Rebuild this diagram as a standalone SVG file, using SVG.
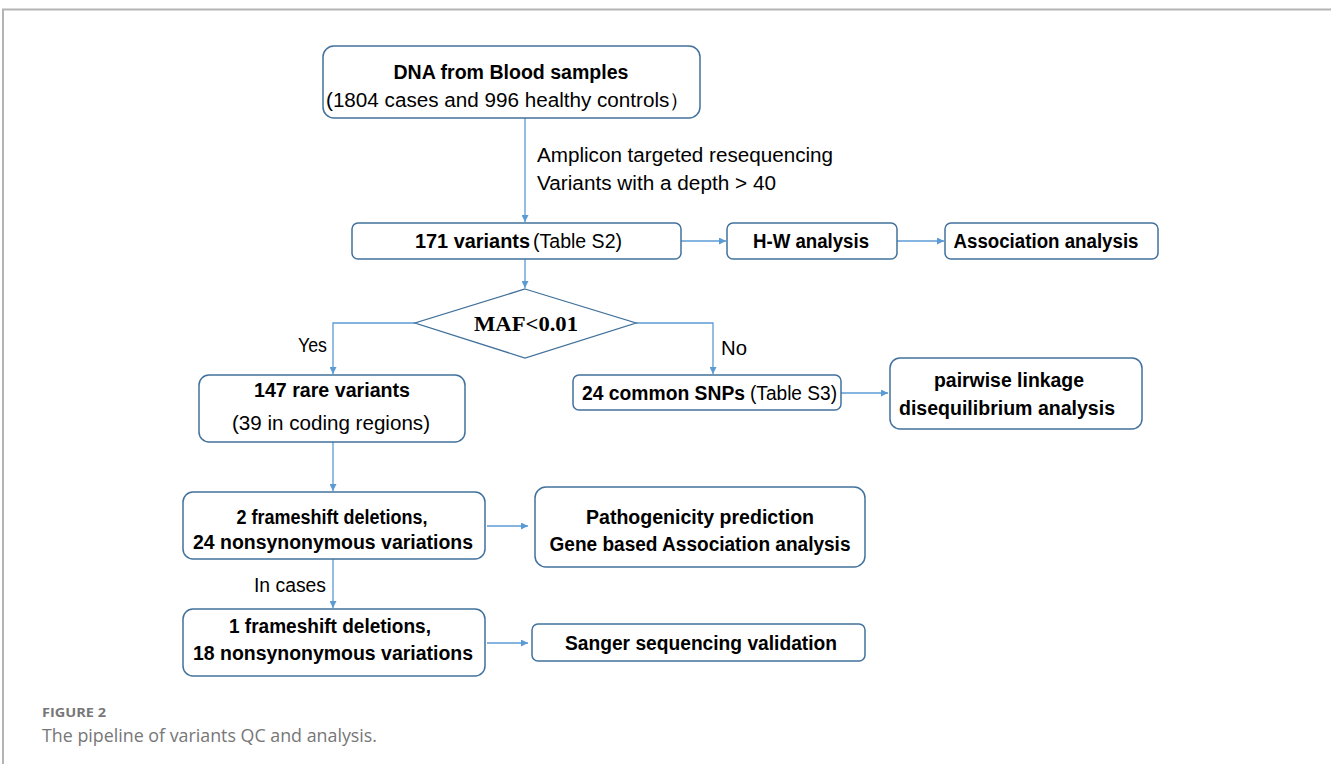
<svg xmlns="http://www.w3.org/2000/svg" width="1331" height="764" viewBox="0 0 1331 764">
<defs>
<marker id="ah" viewBox="0 0 10 10" refX="10" refY="5" markerWidth="7" markerHeight="7" markerUnits="userSpaceOnUse" orient="auto">
<path d="M0,0 L10,5 L0,10 z" fill="#5B9BD5"/>
</marker>
<style>
.box{fill:#fff;stroke:#41719C;stroke-width:1.5}
.ln{fill:none;stroke:#5B9BD5;stroke-width:1.3}
.t{font-family:"Liberation Sans",Arial,sans-serif;font-size:20px;fill:#000;text-anchor:middle}
.l{font-family:"Liberation Sans",Arial,sans-serif;font-size:20px;fill:#000}
.b{font-weight:bold}
.lbl{font-family:"Liberation Sans",Arial,sans-serif;font-size:20px;fill:#000}
.cap{font-family:"Open Sans","Liberation Sans",sans-serif;fill:#777}
</style>
</defs>
<rect width="1331" height="764" fill="#fff"/>
<path d="M3,764 L3,9.5 L1331,9.5" fill="none" stroke="#b4b4b4" stroke-width="2"/>

<g id="connectors">
<line class="ln" x1="525" y1="118" x2="525" y2="222" marker-end="url(#ah)"/>
<line class="ln" x1="681" y1="241" x2="726" y2="241" marker-end="url(#ah)"/>
<line class="ln" x1="897" y1="241" x2="944" y2="241" marker-end="url(#ah)"/>
<line class="ln" x1="525" y1="259" x2="525" y2="288" marker-end="url(#ah)"/>
<path class="ln" d="M415,323 L333,323 L333,374" marker-end="url(#ah)"/>
<path class="ln" d="M636,323 L713,323 L713,374" marker-end="url(#ah)"/>
<line class="ln" x1="841" y1="393" x2="888" y2="393" marker-end="url(#ah)"/>
<line class="ln" x1="333" y1="442" x2="333" y2="491" marker-end="url(#ah)"/>
<line class="ln" x1="487" y1="526" x2="528" y2="526" marker-end="url(#ah)"/>
<line class="ln" x1="333" y1="559" x2="333" y2="608" marker-end="url(#ah)"/>
<line class="ln" x1="487" y1="643" x2="528" y2="643" marker-end="url(#ah)"/>
<text class="lbl" x="537" y="162" textLength="296" lengthAdjust="spacingAndGlyphs">Amplicon targeted resequencing</text>
<text class="lbl" x="537" y="190" textLength="239" lengthAdjust="spacingAndGlyphs">Variants with a depth &gt; 40</text>
<text class="lbl" x="298" y="352" textLength="29" lengthAdjust="spacingAndGlyphs">Yes</text>
<text class="lbl" x="721" y="355" textLength="26" lengthAdjust="spacingAndGlyphs">No</text>
<text class="lbl" x="254" y="592" textLength="72" lengthAdjust="spacingAndGlyphs">In cases</text>
</g>

<g id="dna">
<rect class="box" x="323" y="46" width="377" height="72" rx="11"/>
<text class="t b" x="511" y="79" textLength="235" lengthAdjust="spacingAndGlyphs">DNA from Blood samples</text>
<text class="t" x="508" y="107" textLength="364" lengthAdjust="spacingAndGlyphs">(1804 cases and 996 healthy controls）</text>
</g>

<g id="variants171">
<rect class="box" x="352" y="223" width="329" height="36" rx="6"/>
<text class="l b" x="415" y="248" textLength="115" lengthAdjust="spacingAndGlyphs">171 variants</text>
<text class="l" x="533" y="248" textLength="89" lengthAdjust="spacingAndGlyphs">(Table S2)</text>
</g>

<g id="hw">
<rect class="box" x="727" y="223" width="170" height="36" rx="6"/>
<text class="t b" x="811" y="248" textLength="116" lengthAdjust="spacingAndGlyphs">H-W analysis</text>
</g>

<g id="assoc">
<rect class="box" x="945" y="223" width="213" height="36" rx="6"/>
<text class="t b" x="1046" y="248" textLength="185" lengthAdjust="spacingAndGlyphs">Association analysis</text>
</g>

<g id="maf">
<polygon points="525,289 636,323 525,358 415,323" fill="#fff" stroke="#41719C" stroke-width="1.3"/>
<text x="526" y="331" font-family="'Liberation Serif','Times New Roman',serif" font-weight="bold" font-size="21" text-anchor="middle" textLength="104" lengthAdjust="spacingAndGlyphs">MAF&lt;0.01</text>
</g>

<g id="rare">
<rect class="box" x="199" y="375" width="266" height="67" rx="10"/>
<text class="t b" x="332" y="397" textLength="156" lengthAdjust="spacingAndGlyphs">147 rare variants</text>
<text class="t" x="331" y="430" textLength="198" lengthAdjust="spacingAndGlyphs">(39 in coding regions)</text>
</g>

<g id="common">
<rect class="box" x="573" y="375" width="268" height="35" rx="6"/>
<text class="l b" x="582" y="400" textLength="163" lengthAdjust="spacingAndGlyphs">24 common SNPs</text>
<text class="l" x="750" y="400" textLength="87" lengthAdjust="spacingAndGlyphs">(Table S3)</text>
</g>

<g id="ld">
<rect class="box" x="890" y="358" width="252" height="71" rx="10"/>
<text class="t b" x="1009" y="387" textLength="150" lengthAdjust="spacingAndGlyphs">pairwise linkage</text>
<text class="t b" x="1007" y="415" textLength="216" lengthAdjust="spacingAndGlyphs">disequilibrium analysis</text>
</g>

<g id="frameshift2">
<rect class="box" x="183" y="492" width="302" height="67" rx="10"/>
<text class="t b" x="332" y="524" textLength="191" lengthAdjust="spacingAndGlyphs">2 frameshift deletions,</text>
<text class="t b" x="333" y="549" textLength="280" lengthAdjust="spacingAndGlyphs">24 nonsynonymous variations</text>
</g>

<g id="pathogenicity">
<rect class="box" x="535" y="487" width="330" height="80" rx="11"/>
<text class="t b" x="700" y="524" textLength="228" lengthAdjust="spacingAndGlyphs">Pathogenicity prediction</text>
<text class="t b" x="700" y="551" textLength="301" lengthAdjust="spacingAndGlyphs">Gene based Association analysis</text>
</g>

<g id="frameshift1">
<rect class="box" x="183" y="609" width="302" height="67" rx="10"/>
<text class="t b" x="330" y="633" textLength="202" lengthAdjust="spacingAndGlyphs">1 frameshift deletions,</text>
<text class="t b" x="333" y="660" textLength="280" lengthAdjust="spacingAndGlyphs">18 nonsynonymous variations</text>
</g>

<g id="sanger">
<rect class="box" x="532" y="624" width="333" height="37" rx="6"/>
<text class="t b" x="701" y="650" textLength="272" lengthAdjust="spacingAndGlyphs">Sanger sequencing validation</text>
</g>

<g id="caption">
<text class="cap" x="42" y="717" font-size="13" font-weight="bold" fill="#666" textLength="64" lengthAdjust="spacingAndGlyphs">FIGURE 2</text>
<text class="cap" x="42" y="742" font-size="18" textLength="335" lengthAdjust="spacingAndGlyphs">The pipeline of variants QC and analysis.</text>
</g>
</svg>
